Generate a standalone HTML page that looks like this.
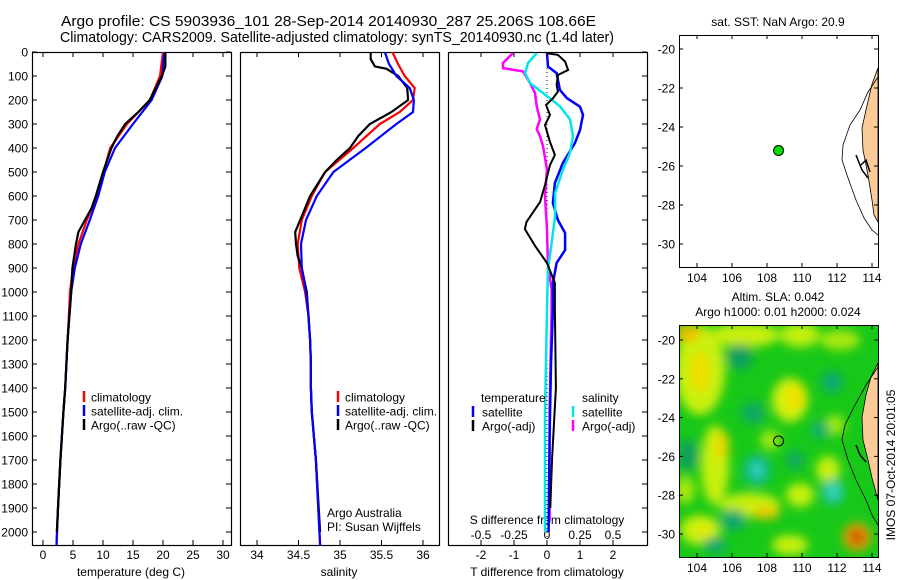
<!DOCTYPE html>
<html><head><meta charset="utf-8">
<style>
html,body{margin:0;padding:0;background:#fff;}
svg{display:block;font-family:"Liberation Sans",sans-serif;}
text{fill:#000;}
</style></head>
<body>
<svg id="fig" width="900" height="580" viewBox="0 0 900 580" xmlns="http://www.w3.org/2000/svg">
<defs>
<filter id="blur" x="-20%" y="-20%" width="140%" height="140%"><feGaussianBlur stdDeviation="5"/></filter>
<clipPath id="clipMap2"><rect x="679" y="325" width="199" height="232"/></clipPath>
<clipPath id="clipMap1"><rect x="679" y="35" width="199" height="232"/></clipPath>
<clipPath id="clipP1"><rect x="32" y="52" width="199" height="493"/></clipPath>
<clipPath id="clipP2"><rect x="240" y="52" width="199" height="493"/></clipPath>
<clipPath id="clipP3"><rect x="448" y="52" width="199" height="493"/></clipPath>
</defs>
<text x="61" y="26" font-size="14.5" textLength="535" lengthAdjust="spacingAndGlyphs">Argo profile: CS 5903936_101 28-Sep-2014 20140930_287 25.206S 108.66E</text>
<text x="60" y="42" font-size="14.5" textLength="554" lengthAdjust="spacingAndGlyphs">Climatology: CARS2009. Satellite-adjusted climatology: synTS_20140930.nc (1.4d later)</text>
<g id="g"></g>
</svg>
<script>
// ---------- data ----------
const tDepthArgo = [0,60,100,200,250,300,350,400,500,600,650,700,750,800,900,1000,1100,1200,1300,1400,1500,1700,1900,2000];
const tArgo      = [20.4,20.4,19.8,17.8,15.9,13.7,12.4,11.4,10.0,8.8,8.1,7.0,5.9,5.5,4.9,4.7,4.4,4.1,3.9,3.7,3.4,2.9,2.5,2.3];
const tDepthClim = [0,100,200,300,400,500,600,700,800,900,1000,1100,1200,1300,1400,1500,1700,1900,2054];
const tClim      = [20.0,19.5,17.8,14.0,11.2,10.1,9.0,7.3,5.9,5.0,4.5,4.3,4.1,3.9,3.7,3.4,2.9,2.5,2.25];
const tSat       = [20.2,19.9,18.1,15.0,12.0,10.3,9.2,7.8,6.3,5.3,4.7,4.4,4.1,3.9,3.7,3.4,2.9,2.5,2.25];
const sDepthArgo = [0,30,60,70,100,150,200,250,300,350,400,450,500,600,700,750,800,850,900,1000,1100,1200,1300,1400,1500,1700,2000];
const sArgo      = [35.37,35.37,35.42,35.56,35.70,35.81,35.82,35.62,35.36,35.22,35.12,34.96,34.82,34.64,34.52,34.46,34.47,34.49,34.54,34.60,34.62,34.64,34.65,34.65,34.66,34.71,34.76];
const sDepthClim = [0,50,100,150,200,250,300,400,500,600,700,800,900,1000,1100,1200,1300,1400,1500,1700,2054];
const sClim      = [35.63,35.70,35.78,35.90,35.88,35.72,35.48,35.16,34.82,34.66,34.54,34.49,34.51,34.58,34.62,34.64,34.65,34.65,34.66,34.71,34.76];
const sSat       = [35.54,35.59,35.68,35.84,35.89,35.88,35.68,35.31,34.92,34.72,34.59,34.53,34.54,34.59,34.62,34.64,34.65,34.65,34.66,34.71,34.76];
const dDepthTSat  = [5,61,88,158,192,228,262,325,379,463,546,629,700,754,825,879,963,1075,1300,1600,2000];
const dTSat       = [0,0.03,0.29,0.39,0.6,1.0,1.09,1.0,0.85,0.48,0.24,0.18,0.33,0.55,0.55,0.29,0.18,0.18,0.12,0.08,0.05];
const dDepthTArgo = [5,12,40,75,96,137,165,193,221,262,304,375,429,471,554,625,708,738,808,879,963,1075,1400,1700,1900];
const dTArgo      = [0,0.33,0.55,0.64,0.33,0.29,0.33,0.18,-0.03,0.09,-0.06,0.09,0.24,0.09,-0.06,-0.21,-0.62,-0.67,-0.36,0,0.24,0.24,0.27,0.15,0.1];
const dDepthSSat  = [5,46,88,129,171,226,281,350,421,490,588,685,796,907,1075,1500,2000];
const dSSat       = [-0.078,-0.144,-0.166,-0.129,-0.03,0.098,0.174,0.197,0.174,0.121,0.061,0.061,0.035,0.007,0,-0.015,-0.015];
const dDepthSArgo = [5,46,67,81,129,171,226,281,322,350,392,490,600,740,879,990,1075,1500,1950];
const dSArgo      = [-0.258,-0.333,-0.333,-0.182,-0.129,-0.091,-0.078,-0.053,-0.078,-0.053,-0.03,0,-0.015,0,0.007,0.035,0.035,0.02,0.02];
const depthTicks = [0,100,200,300,400,500,600,700,800,900,1000,1100,1200,1300,1400,1500,1600,1700,1800,1900,2000];
const tempTicks = [0,5,10,15,20,25,30];
const salTicks = [34,34.5,35,35.5,36];
const salTickLabels = ["34","34.5","35","35.5","36"];
const tDiffTicks = [-2,-1,0,1,2];
const sDiffTicks = [-0.5,-0.25,0,0.25,0.5];
const sDiffTickLabels = ["-0.5","-0.25","0","0.25","0.5"];
const lonTicks = [104,106,108,110,112,114];
const latTicks = [-20,-22,-24,-26,-28,-30];
const argoLon = [108.66];
const argoLat = [-25.206];

// ---------- scales ----------
const NS="http://www.w3.org/2000/svg";
const G=document.getElementById('g');
const yD = d => 52 + d*0.24;
const xT = v => 43 + v*6;
const xS = v => 257 + (v-34)*83;
const xTD = v => 547 + v*33;
const xSD = v => 547 + v*132;
const mX = lon => 697 + (lon-104)*17.5;
const mY1 = lat => 49 + (-20-lat)*19.5;
const mY2 = lat => 340 + (-20-lat)*19.4;

function el(tag, attrs, parent){const e=document.createElementNS(NS,tag);for(const k in attrs)e.setAttribute(k,attrs[k]);(parent||G).appendChild(e);return e;}
function txt(x,y,s,size,anchor,parent){const t=el('text',{x:x,y:y,'font-size':size||12,'text-anchor':anchor||'start'},parent);t.textContent=s;return t;}
function series(xs, ds, xf, color, clip, w){
  const pts = xs.map((v,i)=>xf(v).toFixed(1)+','+yD(ds[i]).toFixed(1)).join(' ');
  return el('polyline',{points:pts,fill:'none',stroke:color,'stroke-width':w||2.2,'clip-path':'url(#'+clip+')'});
}

const panels=[{x:32},{x:240},{x:448}];
panels.forEach((p,i)=>{
  const r=el('rect',{x:p.x+0.5,y:52.5,width:199,height:493,fill:'none',stroke:'#000','stroke-width':1.2});
  
  
});
depthTicks.forEach(d=>{
  const t=txt(28,yD(d)+4.5,String(d),12,'end');
  
  
  el('line',{x1:32,x2:37,y1:yD(d),y2:yD(d),stroke:'#000'});
  el('line',{x1:226,x2:231,y1:yD(d),y2:yD(d),stroke:'#000'});
  el('line',{x1:642,x2:647,y1:yD(d),y2:yD(d),stroke:'#000'});
});
tempTicks.forEach(v=>{
  el('line',{x1:xT(v),x2:xT(v),y1:52,y2:57,stroke:'#000'});
  el('line',{x1:xT(v),x2:xT(v),y1:540,y2:545,stroke:'#000'});
  const t=txt(xT(v),559,String(v),12,'middle');
  
  
});
let at=txt(131,576,'temperature (deg C)',12,'middle');


salTicks.forEach((v,i)=>{
  el('line',{x1:xS(v),x2:xS(v),y1:52,y2:57,stroke:'#000'});
  el('line',{x1:xS(v),x2:xS(v),y1:540,y2:545,stroke:'#000'});
  const t=txt(xS(v),559,salTickLabels[i],12,'middle');
  
  
});
at=txt(339,576,'salinity',12,'middle');


tDiffTicks.forEach(v=>{
  el('line',{x1:xTD(v),x2:xTD(v),y1:52,y2:57,stroke:'#000'});
  el('line',{x1:xTD(v),x2:xTD(v),y1:540,y2:545,stroke:'#000'});
  const t=txt(xTD(v),559,String(v),12,'middle');
  
  
});
sDiffTicks.forEach((v,i)=>{
  const t=txt(xSD(v),539,sDiffTickLabels[i],12,'middle');
  
  
});
at=txt(547,524,'S difference from climatology',12,'middle');


at=txt(547,576,'T difference from climatology',12,'middle');


el('line',{x1:547,x2:547,y1:52,y2:545,stroke:'#000','stroke-dasharray':'1,3'});

let s;
s=series(tClim,tDepthClim,xT,'#ff0000','clipP1');


s=series(tSat,tDepthClim,xT,'#0000ff','clipP1');


s=series(tArgo,tDepthArgo,xT,'#000000','clipP1');


s=series(sClim,sDepthClim,xS,'#ff0000','clipP2');


s=series(sArgo,sDepthArgo,xS,'#000000','clipP2');


s=series(sSat,sDepthClim,xS,'#0000ff','clipP2');


s=series(dSArgo,dDepthSArgo,xSD,'#ff00ff','clipP3',2.5);


s=series(dTSat,dDepthTSat,xTD,'#0000ff','clipP3',2.5);


s=series(dSSat,dDepthSSat,xSD,'#00e5ee','clipP3',2.5);


s=series(dTArgo,dDepthTArgo,xTD,'#000000','clipP3',2);



function legItem(bx,tx,y,color,label,name){
  const g=el('g',{});
  
  
  el('line',{x1:bx,x2:bx,y1:y-6,y2:y+5,stroke:color,'stroke-width':2.5},g);
  txt(tx,y+4.5,label,12,'start',g);
}
legItem(84,91,397,'#ff0000','climatology','legend-entry-climatology-t');
legItem(84,91,411,'#0000ff','satellite-adj. clim.','legend-entry-satellite-t');
legItem(84,91,425,'#000000','Argo(..raw -QC)','legend-entry-argo-t');
legItem(338,345,397,'#ff0000','climatology','legend-entry-climatology-s');
legItem(338,345,411,'#0000ff','satellite-adj. clim.','legend-entry-satellite-s');
legItem(338,345,425,'#000000','Argo(..raw -QC)','legend-entry-argo-s');
at=txt(481,402,'temperature',12);
at=txt(582,402,'salinity',12);
legItem(473,482,412,'#0000ff','satellite','legend-entry-t-satellite');
legItem(473,482,426,'#000000','Argo(-adj)','legend-entry-t-argo');
legItem(573,582,412,'#00e5ee','satellite','legend-entry-s-satellite');
legItem(573,582,426,'#ff00ff','Argo(-adj)','legend-entry-s-argo');
at=txt(327,517,'Argo Australia',12);
at=txt(327,531,'PI: Susan Wijffels',12);

function mapAxes(top,bottom,mY,labY,name){
  lonTicks.forEach(v=>{
    el('line',{x1:mX(v),x2:mX(v),y1:top,y2:top+4,stroke:'#000'});
    el('line',{x1:mX(v),x2:mX(v),y1:bottom-4,y2:bottom,stroke:'#000'});
    const t=txt(mX(v),labY,String(v),12,'middle');
    
    
  });
  latTicks.forEach(v=>{
    el('line',{x1:679,x2:683,y1:mY(v),y2:mY(v),stroke:'#000'});
    el('line',{x1:874,x2:878,y1:mY(v),y2:mY(v),stroke:'#000'});
    const t=txt(675,mY(v)+4.5,String(v),12,'end');
    
    
  });
}
// Map 1
let m1=el('g',{'clip-path':'url(#clipMap1)'});


el('rect',{x:679,y:35,width:199,height:232,fill:'#fff'},m1);
el('path',{d:'M878,68 L872,84 L866,110 L862,128 L863,150 L868,175 L872,200 L874,215 L878,222 Z',fill:'#fccb98',stroke:'#000','stroke-width':0.8},m1);
el('path',{d:'M878,77 L868,92 L860,110 L850,125 L843,145 L842,160 L848,178 L856,200 L864,218 L872,230 L878,235',fill:'none',stroke:'#000','stroke-width':0.8},m1);
el('path',{d:'M856,155 L862,170 L868,178 M861,165 L866,160 L870,172',fill:'none',stroke:'#000','stroke-width':1.5},m1);
let pt=el('circle',{cx:mX(argoLon[0]),cy:mY1(argoLat[0]),r:5,fill:'#00dd00',stroke:'#000','stroke-width':1});


el('rect',{x:679.5,y:35.5,width:199,height:232,fill:'none',stroke:'#000'});
mapAxes(35,267,mY1,282,'sst-map');
at=txt(778,26,'sat. SST: NaN Argo: 20.9',12,'middle');

// Map 2
let m2=el('g',{'clip-path':'url(#clipMap2)'});


el('rect',{x:679,y:325,width:199,height:232,fill:'#18c818'},m2);
const bl=el('g',{filter:'url(#blur)'},m2);
const blobs=[
 [700,370,25,45,'#c8f010'],[745,335,35,12,'#c8f010'],[800,335,20,12,'#c0f010'],[840,340,20,10,'#a8e810'],
 [715,465,14,40,'#c8f010'],[750,505,30,12,'#c8f010'],[700,530,20,15,'#c8f010'],[790,400,18,22,'#d0f010'],
 [828,470,12,14,'#c8f010'],[800,495,14,12,'#c8f010'],[790,545,18,10,'#c8f010'],[770,440,10,10,'#a0e810'],
 [835,425,10,10,'#a0e810'],[685,490,10,14,'#a8e810'],
 [688,333,12,9,'#f0c000'],[700,372,10,20,'#f0e000'],[722,445,7,14,'#f0d800'],[795,397,10,12,'#f0e000'],
 [766,513,14,6,'#f0c800'],[705,530,8,6,'#e8e800'],
 [740,357,13,13,'#10a060'],[753,413,12,11,'#10a868'],[757,470,14,15,'#10b890'],[757,470,6,7,'#30d8c0'],
 [733,520,13,11,'#10a870'],[832,382,11,11,'#10a870'],[833,492,11,13,'#20c0a0'],[833,492,5,6,'#40e0d0'],
 [688,455,10,16,'#10a060'],[795,460,9,9,'#10a868'],[820,430,9,9,'#10b070'],[715,545,12,8,'#10a870'],
 [857,537,14,14,'#f0a000'],[857,537,8,8,'#d06000'],[857,537,4,4,'#b03000']
];
blobs.forEach(b=>el('ellipse',{cx:b[0],cy:b[1],rx:b[2],ry:b[3],fill:b[4]},bl));
el('path',{d:'M878,363 L871,377 L866,395 L862,417 L863,440 L868,460 L872,478 L878,500 Z',fill:'#fccb98',stroke:'#000','stroke-width':0.8},m2);
el('path',{d:'M878,367 L866,385 L855,405 L845,425 L842,440 L848,460 L856,480 L866,500 L872,515 L878,525',fill:'none',stroke:'#000','stroke-width':0.8},m2);
el('path',{d:'M856,445 L860,455 L866,462',fill:'none',stroke:'#000','stroke-width':1.5},m2);
pt=el('circle',{cx:mX(argoLon[0]),cy:mY2(argoLat[0]),r:5,fill:'none',stroke:'#000','stroke-width':1});


el('rect',{x:679.5,y:325.5,width:199,height:232,fill:'none',stroke:'#000'});
mapAxes(325,557,mY2,572,'sla-map');
at=txt(778,301,'Altim. SLA: 0.042',12,'middle');
at=txt(778,316,'Argo h1000: 0.01 h2000: 0.024',12,'middle');
at=txt(0,0,'IMOS 07-Oct-2014 20:01:05',12,'middle');
at.setAttribute('transform','translate(895,465) rotate(-90)');


</script>
</body></html>
